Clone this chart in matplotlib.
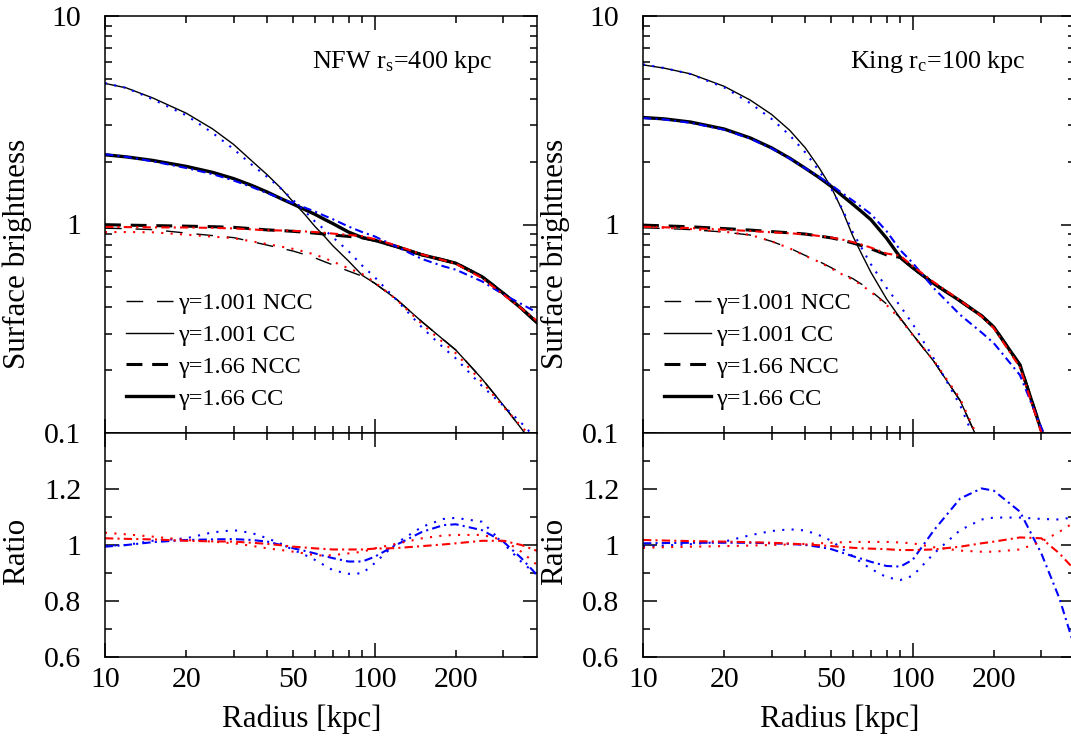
import matplotlib
matplotlib.use('Agg')
import matplotlib.pyplot as plt
from matplotlib.ticker import FixedLocator, FixedFormatter, NullFormatter
import numpy as np

plt.rcParams['font.family'] = ['Liberation Serif', 'DejaVu Serif']
plt.rcParams['mathtext.fontset'] = 'custom'
plt.rcParams['mathtext.rm'] = 'Liberation Serif'
plt.rcParams['mathtext.it'] = 'Liberation Serif:italic'

# radius grid [kpc]
radius = [10, 12, 15, 20, 25, 30, 35, 40, 45, 50, 55, 60, 65, 70, 80, 90, 100,
          120, 150, 180, 200, 250, 300, 350, 400]

# NFW rs=400 kpc : surface brightness
nfw_cc1 = [4.75, 4.52, 4.05, 3.42, 2.88, 2.42, 2.02, 1.73, 1.49, 1.28, 1.12, 0.98, 0.88, 0.79, 0.668, 0.57, 0.523,
           0.44, 0.341, 0.28, 0.25, 0.182, 0.136, 0.105, 0.083]
nfw_ncc1 = [0.96, 0.955, 0.945, 0.91, 0.885, 0.865, 0.828, 0.796, 0.769, 0.745, 0.718, 0.692, 0.664, 0.64, 0.598, 0.565, 0.523,
            0.44, 0.341, 0.28, 0.25, 0.182, 0.136, 0.105, 0.083]
nfw_cc2 = [2.16, 2.11, 2.03, 1.90, 1.78, 1.66, 1.54, 1.43, 1.33, 1.25, 1.18, 1.12, 1.06, 1.01, 0.92, 0.865, 0.84,
           0.785, 0.715, 0.675, 0.652, 0.562, 0.468, 0.396, 0.338]
nfw_ncc2 = [0.998, 0.993, 0.988, 0.982, 0.976, 0.969, 0.955, 0.942, 0.935, 0.927, 0.918, 0.909, 0.9, 0.89, 0.877, 0.865, 0.84,
            0.785, 0.715, 0.675, 0.652, 0.562, 0.468, 0.396, 0.338]

# NFW ratios (data / fit)
nfw_r_cc1 = [0.997, 1.0, 1.015, 1.024, 1.045, 1.053, 1.043, 1.024, 1.004, 0.982, 0.965, 0.947, 0.928, 0.91, 0.897, 0.899, 0.935,
             1.006, 1.065, 1.093, 1.097, 1.083, 1.006, 0.94, 0.893]
nfw_r_cc2 = [0.994, 1.0, 1.01, 1.018, 1.02, 1.021, 1.018, 1.012, 1.0, 0.988, 0.979, 0.97, 0.961, 0.953, 0.941, 0.941, 0.958,
             1.0, 1.047, 1.071, 1.074, 1.053, 1.012, 0.953, 0.893]
nfw_r_ncc1 = [1.044, 1.038, 1.03, 1.018, 1.012, 1.006, 0.997, 0.988, 0.982, 0.976, 0.97, 0.964, 0.962, 0.964, 0.97, 0.976, 0.988,
              1.004, 1.024, 1.034, 1.036, 1.036, 1.018, 0.976, 0.929]
nfw_r_ncc2 = [1.024, 1.022, 1.02, 1.015, 1.013, 1.012, 1.008, 1.004, 0.999, 0.994, 0.991, 0.988, 0.986, 0.984, 0.984, 0.984, 0.987,
              0.989, 0.996, 1.002, 1.006, 1.015, 1.015, 1.0, 0.979]

# King rc=100 kpc : surface brightness
king_cc1 = [5.83, 5.62, 5.28, 4.6, 3.95, 3.37, 2.83, 2.33, 1.87, 1.50, 1.16, 0.88, 0.713, 0.59, 0.44, 0.355, 0.297,
            0.22, 0.143, 0.085, 0.062, 0.032, 0.018, 0.011, 0.007]
king_ncc1 = [0.964, 0.957, 0.945, 0.92, 0.89, 0.83, 0.77, 0.71, 0.665, 0.62, 0.58, 0.55, 0.515, 0.48, 0.416, 0.355, 0.297,
             0.22, 0.143, 0.085, 0.062, 0.032, 0.018, 0.011, 0.007]
king_cc2 = [3.26, 3.21, 3.10, 2.87, 2.60, 2.33, 2.08, 1.86, 1.68, 1.52, 1.37, 1.25, 1.146, 1.055, 0.86, 0.695, 0.62,
            0.52, 0.43, 0.365, 0.322, 0.212, 0.103, 0.055, 0.03]
king_ncc2 = [0.993, 0.985, 0.975, 0.956, 0.94, 0.925, 0.912, 0.9, 0.88, 0.862, 0.84, 0.815, 0.79, 0.765, 0.715, 0.695, 0.62,
             0.52, 0.43, 0.365, 0.322, 0.212, 0.103, 0.055, 0.03]

# King ratios (data / fit)
king_r_cc1 = [0.995, 0.998, 1.003, 1.012, 1.035, 1.05, 1.056, 1.052, 1.035, 1.015, 0.985, 0.96, 0.935, 0.915, 0.885, 0.875, 0.89,
              0.97, 1.053, 1.091, 1.098, 1.098, 1.093, 1.091, 1.10]
king_r_cc2 = [1.006, 1.007, 1.008, 1.008, 1.008, 1.006, 1.004, 1.0, 0.993, 0.985, 0.972, 0.96, 0.95, 0.94, 0.925, 0.923, 0.947,
              1.053, 1.166, 1.202, 1.194, 1.119, 0.97, 0.81, 0.63]
king_r_ncc1 = [0.99, 0.992, 0.994, 0.996, 0.998, 1.0, 1.002, 1.004, 1.006, 1.008, 1.01, 1.011, 1.011, 1.011, 1.011, 1.009, 1.006,
               0.992, 0.98, 0.976, 0.976, 0.984, 1.012, 1.047, 1.083]
king_r_ncc2 = [1.018, 1.016, 1.014, 1.012, 1.01, 1.008, 1.005, 1.002, 0.999, 0.996, 0.993, 0.99, 0.988, 0.987, 0.985, 0.982, 0.982,
               0.984, 0.994, 1.006, 1.012, 1.027, 1.024, 0.97, 0.91]

labels = ['γ=1.001 NCC', 'γ=1.001 CC', 'γ=1.66 NCC', 'γ=1.66 CC']
titles = ['NFW r$_{\\mathrm{s}}$=400 kpc', 'King r$_{\\mathrm{c}}$=100 kpc']

TICK = 21.5
LAB = 22.3

thin_dash = (0, (12, 10))
thick_dash = (0, (5.2, 3.2))
dotted = (0, (1, 3.5))
dashdot = (0, (4, 2, 1, 2))


def style_axes(ax):
    ax.set_xscale('log')
    ax.set_xlim(10, 400)
    ax.tick_params(which='both', direction='in', top=True, right=True, width=1.1)
    ax.tick_params(which='major', length=10)
    ax.tick_params(which='minor', length=5)
    ax.tick_params(axis='y', pad=17, labelsize=TICK)
    ax.tick_params(axis='x', pad=7, labelsize=TICK)
    ax.xaxis.set_major_locator(FixedLocator([10, 100]))
    ax.xaxis.set_minor_locator(FixedLocator([20, 30, 40, 50, 60, 70, 80, 90, 200, 300]))
    for s in ax.spines.values():
        s.set_linewidth(1.1)


fig = plt.figure(figsize=(10.71, 7.40), dpi=100)

xs = [105 / 1071, 643 / 1071]
w = 432 / 1071
panels = [
    (nfw_ncc1, nfw_cc1, nfw_ncc2, nfw_cc2, nfw_r_ncc1, nfw_r_cc1, nfw_r_ncc2, nfw_r_cc2),
    (king_ncc1, king_cc1, king_ncc2, king_cc2, king_r_ncc1, king_r_cc1, king_r_ncc2, king_r_cc2),
]

for i, (ncc1, cc1, ncc2, cc2, rn1, rc1, rn2, rc2) in enumerate(panels):
    ax = fig.add_axes([xs[i], 1 - 433 / 740, w, 417 / 740])
    axr = fig.add_axes([xs[i], 1 - 657 / 740, w, 224 / 740])

    r = np.array(radius)
    # data curves
    ax.plot(r, ncc1, color='black', lw=1.0, ls=thin_dash, label=labels[0])
    ax.plot(r, cc1, color='black', lw=1.0, ls='-', label=labels[1])
    ax.plot(r, ncc2, color='black', lw=2.2, ls=thick_dash, label=labels[2])
    ax.plot(r, cc2, color='black', lw=2.4, ls='-', label=labels[3])
    # fitted models (data / ratio)
    ax.plot(r, np.array(cc1) / np.array(rc1), color='blue', lw=1.5, ls=dotted)
    ax.plot(r, np.array(cc2) / np.array(rc2), color='blue', lw=1.5, ls=dashdot)
    ax.plot(r, np.array(ncc1) / np.array(rn1), color='red', lw=1.5, ls=dotted)
    ax.plot(r, np.array(ncc2) / np.array(rn2), color='red', lw=1.5, ls=dashdot)

    ax.set_yscale('log')
    ax.set_ylim(0.1, 10)
    style_axes(ax)
    ax.yaxis.set_major_locator(FixedLocator([0.1, 1, 10]))
    ax.yaxis.set_major_formatter(FixedFormatter(['0.1', '1', '10']))
    ax.yaxis.set_minor_locator(FixedLocator([k * 0.1 for k in range(2, 10)] + list(range(2, 10))))
    ax.yaxis.set_minor_formatter(NullFormatter())
    ax.xaxis.set_major_formatter(NullFormatter())
    ax.xaxis.set_minor_formatter(NullFormatter())
    ax.set_ylabel('Surface brightness', fontsize=LAB)
    ax.yaxis.set_label_coords(-0.17, 0.43)
    ax.text(0.479, 0.875, titles[i], transform=ax.transAxes, fontsize=18.8,
            ha='left', va='baseline')
    ax.legend(loc='upper left', bbox_to_anchor=(0.049, 0.337), frameon=False,
              fontsize=17.5, handlelength=1.93, handletextpad=0.2, labelspacing=0.4,
              borderpad=0, borderaxespad=0)

    # ratio panel
    axr.plot(r, rc1, color='blue', lw=1.5, ls=dotted)
    axr.plot(r, rc2, color='blue', lw=1.5, ls=dashdot)
    axr.plot(r, rn1, color='red', lw=1.5, ls=dotted)
    axr.plot(r, rn2, color='red', lw=1.5, ls=dashdot)
    axr.set_ylim(0.6, 1.4)
    style_axes(axr)
    axr.yaxis.set_major_locator(FixedLocator([0.6, 0.8, 1.0, 1.2]))
    axr.yaxis.set_major_formatter(FixedFormatter(['0.6', '0.8', '1', '1.2']))
    axr.yaxis.set_minor_locator(FixedLocator([0.7, 0.9, 1.1, 1.3]))
    axr.xaxis.set_major_formatter(FixedFormatter(['10', '100']))
    axr.xaxis.set_minor_formatter(FixedFormatter(['20', '', '', '50', '', '', '', '', '200', '']))
    axr.tick_params(axis='x', which='minor', labelsize=TICK, pad=7)
    axr.set_ylabel('Ratio', fontsize=LAB)
    axr.yaxis.set_label_coords(-0.17, 0.47)
    axr.set_xlabel('Radius [kpc]', fontsize=LAB)
    axr.xaxis.set_label_coords(0.455, -0.21)

fig.savefig('out.png', dpi=100)
